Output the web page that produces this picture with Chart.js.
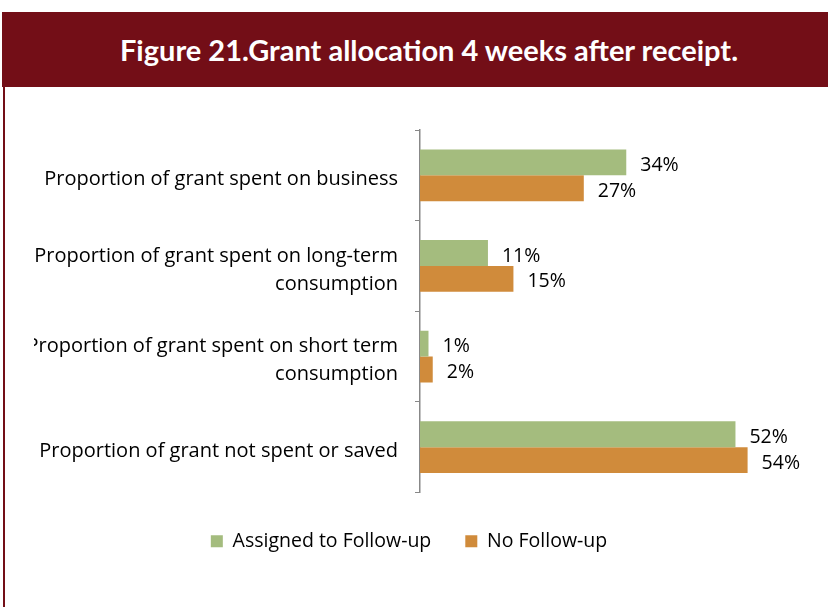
<!DOCTYPE html>
<html>
<head>
<meta charset="utf-8">
<script src="https://cdn.jsdelivr.net/npm/chart.js@4"></script>
<style>
  html, body { margin: 0; padding: 0; background: #fff; width: 828px; height: 607px; overflow: hidden; }
  .header {
    position: absolute; left: 2px; top: 12px; width: 826px; height: 75px;
    background: #730e17; color: #fff;
    font-family: "Lato", sans-serif; font-weight: bold; font-size: 29px;
    line-height: 75px; text-align: center; text-indent: 28px;
  }
  .edge { position: absolute; left: 3px; top: 87px; width: 2px; height: 520px; background: #730e17; }
  .wrap { position: absolute; left: 34px; top: 87px; width: 794px; height: 520px; }
</style>
</head>
<body>
<div class="header">Figure 21.Grant allocation 4 weeks after receipt.</div>
<div class="edge"></div>
<div class="wrap"><canvas id="grantChart"></canvas></div>
<script>
const categories = [
    'Proportion of grant spent on business',
    ['Proportion of grant spent on long-term', 'consumption'],
    ['Proportion of grant spent on short term', 'consumption'],
    'Proportion of grant not spent or saved'
];
const followUp = [34, 11.2, 1.4, 52];
const noFollowUp = [27, 15.4, 2.1, 54];

const LABEL_FONT = '"Open Sans", sans-serif';
const LABEL_SIZE = 20;

// 棒の右端に値ラベルを描く
const valueLabels = {
    id: 'valueLabels',
    afterDatasetsDraw(chart) {
        const ctx = chart.ctx;
        ctx.save();
        ctx.font = '19.5px ' + LABEL_FONT;
        ctx.fillStyle = '#000';
        ctx.textBaseline = 'middle';
        ctx.textAlign = 'left';
        chart.data.datasets.forEach((ds, i) => {
            chart.getDatasetMeta(i).data.forEach((bar, j) => {
                ctx.fillText(Math.round(ds.data[j]) + '%', bar.x + 14, bar.y + 3);
            });
        });
        ctx.restore();
    }
};

const ctx = document.getElementById('grantChart').getContext('2d');
new Chart(ctx, {
    type: 'bar',
    data: {
        labels: categories,
        datasets: [
            {
                label: 'Assigned to Follow-up',
                data: followUp,
                backgroundColor: '#a4bc7e',
                categoryPercentage: 0.57,
                barPercentage: 1.0
            },
            {
                label: 'No Follow-up',
                data: noFollowUp,
                backgroundColor: '#d08b3b',
                categoryPercentage: 0.57,
                barPercentage: 1.0
            }
        ]
    },
    options: {
        indexAxis: 'y',
        responsive: true,
        maintainAspectRatio: false,
        animation: false,
        layout: { padding: { top: 43, right: 44, bottom: 46, left: 0 } },
        scales: {
            x: {
                min: 0,
                max: 60,
                grid: { display: false },
                border: { display: false },
                ticks: { display: false },
                afterFit: s => { s.height = 5; }
            },
            y: {
                afterFit: s => { s.width = 386; },
                grid: { drawOnChartArea: false, tickLength: 5, color: '#888', offset: true },
                border: { color: '#888', width: 1.5 },
                ticks: {
                    color: '#000',
                    padding: 17,
                    labelOffset: 4,
                    font: { family: LABEL_FONT, size: LABEL_SIZE, lineHeight: 1.4 }
                }
            }
        },
        plugins: {
            legend: {
                position: 'bottom',
                labels: {
                    boxWidth: 12,
                    boxHeight: 12,
                    color: '#000',
                    padding: 34,
                    font: { family: LABEL_FONT, size: 19.5 }
                }
            },
            tooltip: { enabled: false }
        }
    },
    plugins: [valueLabels]
});
</script>
</body>
</html>
